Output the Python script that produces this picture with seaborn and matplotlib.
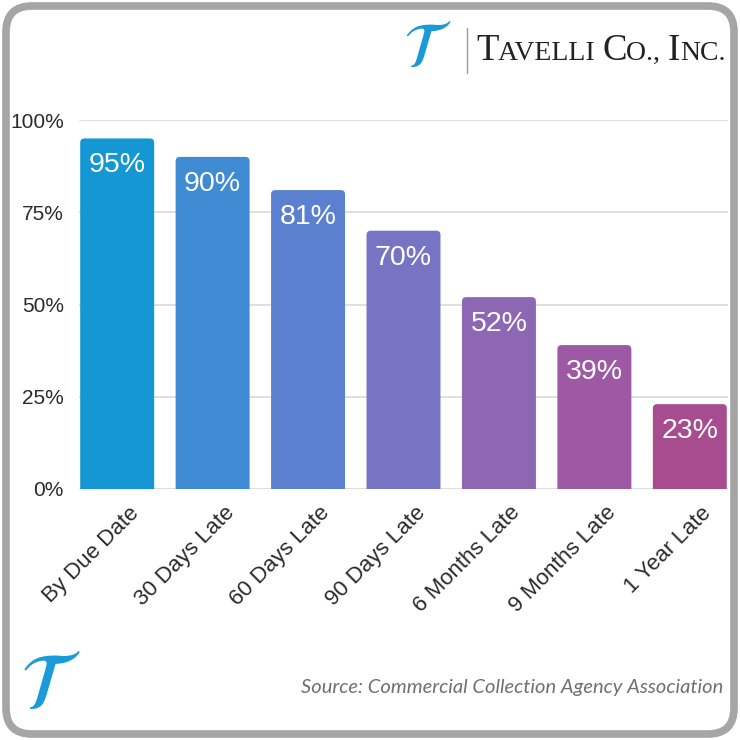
import matplotlib
matplotlib.use("Agg")
import matplotlib.pyplot as plt
from matplotlib.patches import FancyBboxPatch
import matplotlib.transforms as mtransforms
import seaborn as sns
import pandas as pd

categories = ["By Due Date", "30 Days Late", "60 Days Late", "90 Days Late",
              "6 Months Late", "9 Months Late", "1 Year Late"]
values = [95, 90, 81, 70, 52, 39, 23]
value_labels = ["95%", "90%", "81%", "70%", "52%", "39%", "23%"]
bar_colors = ["#1597D4", "#3F8CD4", "#5B80CF", "#7774C4", "#8D66B4", "#9D59A3", "#A74C8E"]
y_ticks = [0, 25, 50, 75, 100]
y_tick_labels = ["0%", "25%", "50%", "75%", "100%"]

sns.set_theme(style="white")
plt.rcParams["font.family"] = ["Liberation Sans", "DejaVu Sans"]

W = 740
fig = plt.figure(figsize=(7.4, 7.4), dpi=100)
fig.patch.set_facecolor("white")

# rounded grey frame
frame = FancyBboxPatch((6 / W, 6 / W), 1 - 12 / W, 1 - 12 / W,
                       boxstyle="round,pad=0,rounding_size=0.035",
                       transform=fig.transFigure, facecolor="none",
                       edgecolor="#A5A5A5", linewidth=5.5, zorder=-1)
fig.patches.append(frame)

ax = fig.add_axes([79 / W, 1 - 489 / W, (728 - 79) / W, (489 - 120) / W])
ax.set_facecolor("none")
df = pd.DataFrame({"cat": categories, "val": values})
sns.barplot(data=df, x="cat", y="val", hue="cat", palette=bar_colors,
            legend=False, width=0.775, ax=ax, saturation=1, zorder=3)

ax.set_xlim(-0.4, 6.4)
ax.set_ylim(0, 100)

# replace rectangles with rounded-top bars
px_x = (728 - 79) / 6.8
px_y = (489 - 120) / 100
for p in list(ax.patches):
    x, w, h = p.get_x(), p.get_width(), p.get_height()
    col = p.get_facecolor()
    p.set_visible(False)
    fb = FancyBboxPatch((x, -3), w, h + 3,
                        boxstyle="round,pad=0,rounding_size=0.045",
                        mutation_aspect=px_x / px_y,
                        facecolor=col, edgecolor="none", zorder=3)
    ax.add_patch(fb)

for i, (v, lab) in enumerate(zip(values, value_labels)):
    ax.text(i, v - 3.8, lab, ha="center", va="top", color="white",
            fontsize=20.5, zorder=4)

ax.tick_params(axis="y", length=0, pad=11)
ax.tick_params(axis="x", length=0, pad=6)
ax.set_yticks(y_ticks)
ax.set_yticklabels(y_tick_labels, fontsize=15, color="#2A2A2A")
ax.set_xticks(range(len(categories)))
ax.set_xticklabels(categories, fontsize=16, color="#2A2A2A", rotation=45,
                   ha="right", rotation_mode="anchor")
offset = mtransforms.ScaledTranslation(0.11, -0.05, fig.dpi_scale_trans)
for lbl in ax.get_xticklabels():
    lbl.set_transform(lbl.get_transform() + offset)
ax.yaxis.grid(True, color="#DCDCDC", linewidth=1.3, zorder=0)
ax.xaxis.grid(False)
for s in ax.spines.values():
    s.set_visible(False)
ax.set_xlabel("")
ax.set_ylabel("")

# logo (top right)
plt.rcParams["mathtext.fontset"] = "stix"
fig.text(427 / W, 1 - 50 / W, r"$\mathcal{T}$", fontsize=46, color="#1A9AD9",
         ha="center", va="center")
fig.add_artist(plt.Line2D([467 / W, 467 / W], [1 - 28 / W, 1 - 73 / W],
                          transform=fig.transFigure, color="#9A9A9A", linewidth=1))

renderer = fig.canvas.get_renderer()
pieces = [("T", 26.5), ("AVELLI ", 20), ("C", 26.5), ("O., ", 20), ("I", 26.5), ("NC.", 20)]
xpos = 476
for txt, fs in pieces:
    t = fig.text(xpos / W, 1 - 60 / W, txt, fontsize=fs, color="#222222",
                 family="Liberation Serif", ha="left", va="baseline")
    bb = t.get_window_extent(renderer=renderer)
    xpos += bb.width

# small logo bottom left
fig.text(50 / W, 1 - 688 / W, r"$\mathcal{T}$", fontsize=58, color="#1A9AD9",
         ha="center", va="center")

fig.text(723 / W, 1 - 688 / W, "Source: Commercial Collection Agency Association",
         fontsize=14.5, color="#707070", style="italic", family="Lato",
         ha="right", va="center")

fig.savefig("out.png", dpi=100, facecolor="white")
